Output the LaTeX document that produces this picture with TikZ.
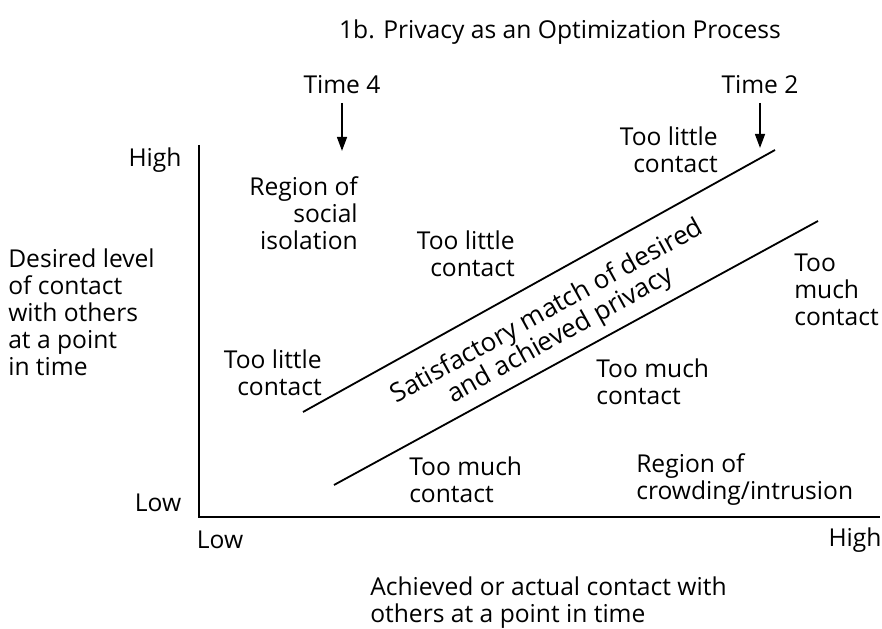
\documentclass[tikz,border=0pt]{standalone}
\usepackage{fontspec}
\setmainfont{Open Sans}
\usetikzlibrary{arrows.meta}
\tikzset{
	txt/.style={inner sep=0pt, font=\fontsize{17.5}{19.2}\selectfont},
	slanted/.style={inner sep=0pt, rotate=29, align=center, font=\fontsize{18.5}{19.5}\selectfont},
	axis/.style={line width=2pt},
	band/.style={line width=1.3pt},
	timearrow/.style={line width=1.4pt, -{Triangle[length=10pt,width=7pt]}, shorten <=6pt},
}

\begin{document}
\begin{tikzpicture}[x=0.025cm, y=-0.025cm]
	\useasboundingbox (0,0) rectangle (882,629);

	\node[txt] (title) at (560,32) {1b. Privacy as an Optimization Process};
	\node[txt] (time4) at (342,85) {Time 4};
	\node[txt] (time2) at (760,85) {Time 2};
	\coordinate (t4) at (342,151);
	\coordinate (t2) at (760,148);

	\coordinate (ytop) at (199,145);
	\coordinate (origin) at (199,517);
	\coordinate (xend) at (880,517);
	\node[txt] (yhigh) at (155,160) {High};
	\node[txt] (ylow) at (158,503) {Low};
	\node[txt] (xlow) at (220,540) {Low};
	\node[txt] (xhigh) at (855,540) {High};

	\node[txt, anchor=west, align=left] (ytitle) at (8,312) {Desired level\\of contact\\with others\\at a point\\in time};
	\node[txt, anchor=west, align=left] (xtitle) at (370,603) {Achieved or actual contact with\\others at a point in time};

	\coordinate (u1) at (303,412);
	\coordinate (u2) at (775,150);
	\coordinate (l1) at (334,485);
	\coordinate (l2) at (818,221);

	\node[txt, anchor=east, align=right] (isolation) at (358,213) {Region of\\social\\isolation};
	\node[txt, anchor=east, align=right] (little1) at (515,254) {Too little\\contact};
	\node[txt, anchor=east, align=right] (little2) at (718,150) {Too little\\contact};
	\node[txt, anchor=east, align=right] (little3) at (322,373) {Too little\\contact};
	\node[txt, anchor=west, align=left] (much1) at (794,290) {Too\\much\\contact};
	\node[txt, anchor=west, align=left] (much2) at (596,382) {Too much\\contact};
	\node[txt, anchor=west, align=left] (much3) at (409,480) {Too much\\contact};
	\node[txt, anchor=west, align=left] (crowding) at (636,480) {Region of\\crowding/intrusion};
	\node[slanted] (match) at (554,324) {Satisfactory match of desired\\and achieved privacy};

	\draw[timearrow] (time4.south) -- (t4);
	\draw[timearrow] (time2.south) -- (t2);
	\draw[axis] (ytop) -- (origin) -- (xend);
	\draw[band] (u1) -- (u2);
	\draw[band] (l1) -- (l2);
\end{tikzpicture}
\end{document}
